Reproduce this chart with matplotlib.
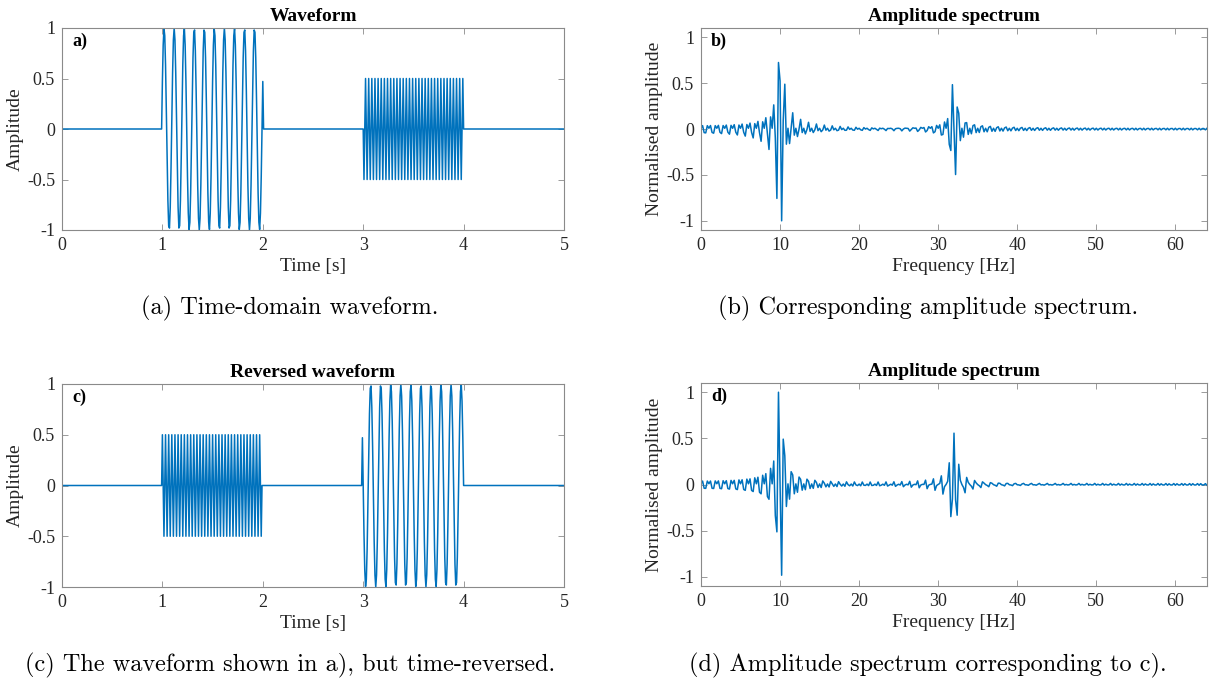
import numpy as np
import matplotlib
matplotlib.use("Agg")
import matplotlib.pyplot as plt
from matplotlib.ticker import FuncFormatter

fs = 128
n_samples = 640
burst_start = [1, 3]        # s
burst_end = [2, 4]          # s
burst_freq = [10, 32]       # Hz
burst_amp = [1.0, 0.5]
burst_phase = [0.49, np.pi]  # rad, start phase of each burst

time_ticks = [0, 1, 2, 3, 4, 5]
freq_ticks = [0, 10, 20, 30, 40, 50, 60]
amp_ticks = [-1, -0.5, 0, 0.5, 1]

titles = ["Waveform", "Amplitude spectrum", "Reversed waveform", "Amplitude spectrum"]
panel_tags = ["a)", "b)", "c)", "d)"]
captions = ["(a) Time-domain waveform.",
            "(b) Corresponding amplitude spectrum.",
            "(c) The waveform shown in a), but time-reversed.",
            "(d) Amplitude spectrum corresponding to c)."]

# build the waveform
n = np.arange(n_samples)
t = n / fs
wave = np.zeros(n_samples)
for t0, t1, f0, a0, p0 in zip(burst_start, burst_end, burst_freq, burst_amp, burst_phase):
    sel = (n >= t0 * fs) & (n <= t1 * fs)
    wave[sel] = a0 * np.sin(2 * np.pi * f0 * n[sel] / fs + p0)
wave_rev = wave[::-1]


def spectrum(x):
    X = np.fft.fft(x)
    half = n_samples // 2 + 1
    f = np.arange(half) * fs / n_samples
    y = X.real[:half]
    return f, y / np.max(np.abs(y))


plt.rcParams['font.family'] = ['Liberation Serif', 'DejaVu Serif']
plt.rcParams['axes.unicode_minus'] = False

blue = '#0072BD'
spine_col = '#8a8a8a'
text_col = '#262626'
fmt = FuncFormatter(lambda v, p: f"{v:g}")

fig = plt.figure(figsize=(12.1, 6.84), dpi=100)
W, H = 1210, 684
boxes = [(62, 28, 564, 230), (701, 28, 1207, 230),
         (62, 384, 564, 587), (701, 383, 1207, 586)]
axes = [fig.add_axes([x0 / W, 1 - y1 / H, (x1 - x0) / W, (y1 - y0) / H])
        for x0, y0, x1, y1 in boxes]

for i, ax in enumerate(axes):
    if i % 2 == 0:
        x = wave if i == 0 else wave_rev
        ax.plot(t, x, color=blue, lw=1.1)
        ax.set_xlim(0, 5)
        ax.set_ylim(-1, 1)
        ax.set_xticks(time_ticks)
        ax.set_xlabel("Time [s]", fontsize=14, color=text_col, labelpad=3)
        ax.set_ylabel("Amplitude", fontsize=14, color=text_col, labelpad=2)
    else:
        f, y = spectrum(wave if i == 1 else wave_rev)
        ax.plot(f, y, color=blue, lw=1.1)
        ax.set_xlim(0, 64)
        ax.set_ylim(-1.1, 1.1)
        ax.set_xticks(freq_ticks)
        ax.set_xlabel("Frequency [Hz]", fontsize=14, color=text_col, labelpad=3)
        ax.set_ylabel("Normalised amplitude", fontsize=14, color=text_col, labelpad=2)
    ax.set_yticks(amp_ticks)
    ax.xaxis.set_major_formatter(fmt)
    ax.yaxis.set_major_formatter(fmt)
    ax.tick_params(direction='in', top=True, right=True, length=4, width=0.6,
                   color=spine_col, labelcolor=text_col, labelsize=13, pad=5)
    for s in ax.spines.values():
        s.set_color(spine_col)
        s.set_linewidth(0.8)
    ax.set_title(titles[i], fontsize=14, fontweight='bold', color='black', pad=5)
    ax.text(0.02, 0.935, panel_tags[i], transform=ax.transAxes, fontsize=13,
            fontweight='bold', va='center', ha='left')

cap_pos = [(290, 308), (928, 308), (290, 665), (928, 665)]
for (cx, cy), cap in zip(cap_pos, captions):
    fig.text(cx / W, 1 - cy / H, cap, family='cmr10', fontsize=17.5,
             ha='center', va='center')

fig.savefig("out.png", dpi=100)
